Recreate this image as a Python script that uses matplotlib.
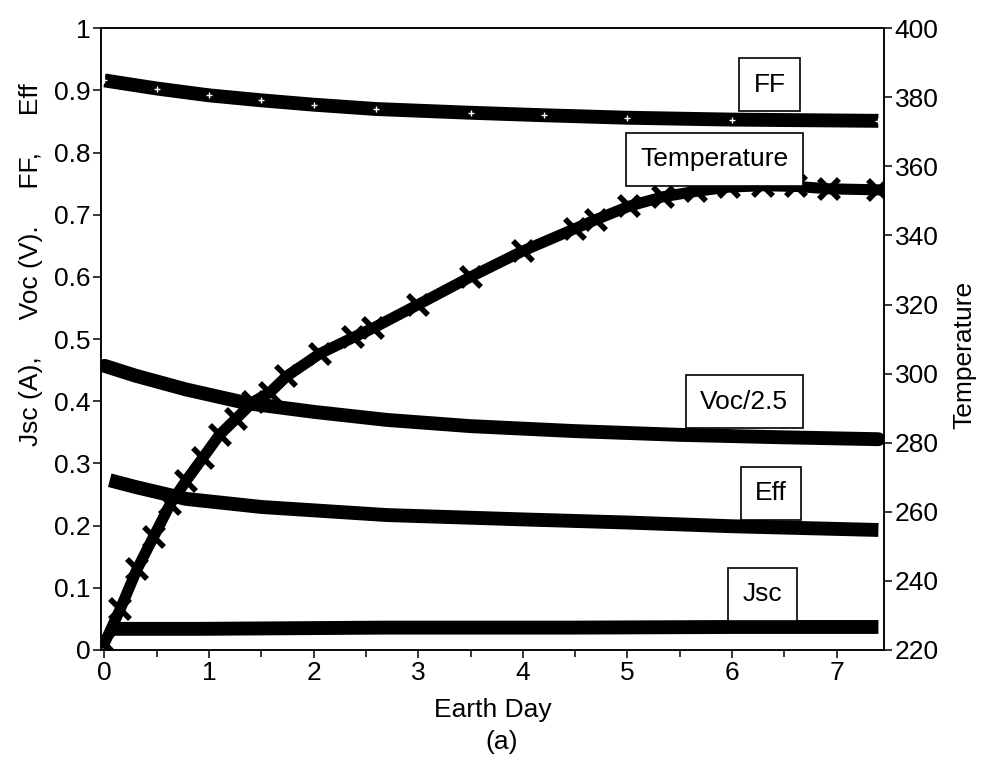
import matplotlib
matplotlib.use('Agg')
import matplotlib.pyplot as plt
from matplotlib.ticker import MultipleLocator

plt.rcParams['font.family'] = ['Liberation Sans', 'DejaVu Sans']

# 数据
day_ff = [0.0, 0.5, 1.0, 1.5, 2.0, 2.6, 3.5, 4.2, 5.0, 6.0, 7.4]
ff = [0.916, 0.903, 0.892, 0.884, 0.877, 0.870, 0.864, 0.860, 0.856, 0.853, 0.851]

day_voc = [0.0, 0.3, 0.78, 1.36, 2.0, 2.7, 3.5, 4.5, 5.5, 6.5, 7.4]
voc = [0.457, 0.441, 0.419, 0.397, 0.383, 0.370, 0.360, 0.352, 0.346, 0.342, 0.339]

day_eff = [0.05, 0.3, 0.78, 1.5, 2.7, 4.0, 5.0, 6.0, 7.4]
eff = [0.273, 0.262, 0.243, 0.230, 0.217, 0.210, 0.205, 0.199, 0.193]

day_jsc = [0.05, 0.9, 2.7, 4.5, 6.0, 7.4]
jsc = [0.034, 0.034, 0.036, 0.036, 0.037, 0.037]

day_temp = [0.0, 0.15, 0.31, 0.47, 0.63, 0.78, 0.94, 1.10, 1.26, 1.42, 1.58, 1.74,
            2.06, 2.38, 2.57, 3.0, 3.5, 4.0, 4.5, 4.7, 5.02, 5.34, 5.66, 5.97,
            6.30, 6.61, 6.93, 7.40]
temp = [222, 231.8, 243.3, 252.8, 262.3, 269, 275.6, 282.3, 287, 291.8, 294.5, 299.2,
        305.8, 310.5, 313.2, 320, 328, 335.5, 342, 344.6, 348.5, 351.2, 352.8, 354,
        354.4, 354.2, 353.5, 353.2]

labels = ['FF', 'Temperature', 'Voc/2.5', 'Eff', 'Jsc']
label_pos = [(0.854, 0.909), (0.784, 0.789), (0.822, 0.399), (0.856, 0.252), (0.845, 0.090)]

fs = 19

fig = plt.figure(figsize=(9.84, 7.62), dpi=100)
ax = fig.add_axes([0.103, 0.147, 0.795, 0.816])
ax2 = ax.twinx()

# 左轴曲线
ax.plot(day_ff, ff, color='black', lw=10, solid_capstyle='butt')
ax.plot(day_ff, ff, ls='none', marker='+', ms=4, mec='white', mew=1)
ax.plot(day_voc, voc, color='black', lw=10, solid_capstyle='round')
ax.plot(day_eff, eff, color='black', lw=10, solid_capstyle='butt')
ax.plot(day_jsc, jsc, color='black', lw=10, solid_capstyle='butt')

# 右轴温度
ax2.plot(day_temp, temp, color='black', lw=8, marker='x', ms=14, mew=4)

ax.set_xlim(-0.03, 7.45)
ax.set_ylim(0, 1)
ax2.set_ylim(220, 400)
ax.set_xticks(range(0, 8))
ax.xaxis.set_minor_locator(MultipleLocator(0.5))
ax.set_yticks([i / 10 for i in range(11)])
ax.set_yticklabels(['0'] + ['0.%d' % i for i in range(1, 10)] + ['1'])
ax2.set_yticks(range(220, 401, 20))

for a in (ax, ax2):
    for s in a.spines.values():
        s.set_linewidth(1.1)
    a.tick_params(which='major', direction='out', length=6, width=1.1, labelsize=fs, pad=2)
    a.tick_params(which='minor', direction='out', length=5, width=1.1)

ax.set_xlabel('Earth Day', fontsize=fs, labelpad=9)
ax.set_ylabel('Jsc (A),     Voc (V).     FF,     Eff', fontsize=fs)
ax.yaxis.set_label_coords(-0.075, 0.62)
ax2.set_ylabel('Temperature', fontsize=fs)
ax2.yaxis.set_label_coords(1.088, 0.474)
fig.text(0.51, 0.026, '(a)', fontsize=fs, ha='center', va='center')

for txt, (xp, yp) in zip(labels, label_pos):
    ax2.text(xp, yp, txt, transform=ax2.transAxes, fontsize=fs, ha='center', va='center',
             zorder=10, bbox=dict(boxstyle='square,pad=0.55', fc='white', ec='black', lw=1.2))

fig.savefig('out.png', dpi=100, facecolor='white')
